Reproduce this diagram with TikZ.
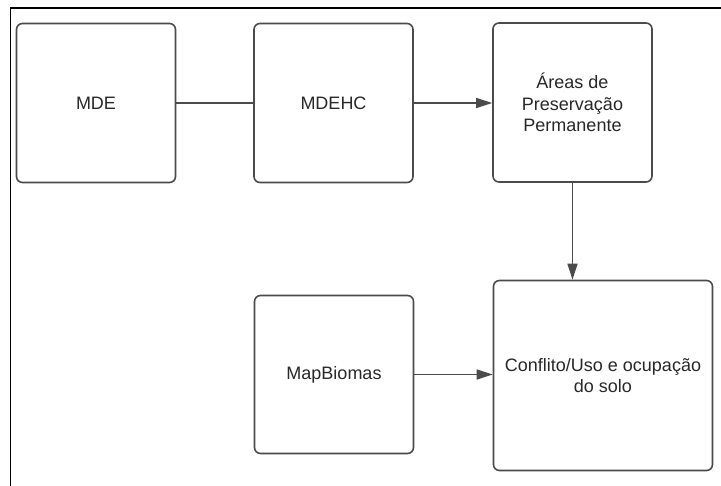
\documentclass[tikz,border=0pt]{standalone}
\usepackage{fontspec}
\setmainfont{Liberation Sans}
\definecolor{boxline}{RGB}{75, 75, 75}
\definecolor{boxtext}{RGB}{40, 40, 40}
\usetikzlibrary{arrows.meta, positioning}

\tikzset{
  procbox/.style={draw=boxline, line width=1.6pt, rounded corners=6pt, fill=white,
    text=boxtext, align=center, inner sep=4pt, font=\fontsize{18}{21.5}\selectfont},
  flow/.style={draw=boxline, line width=1.4pt},
  flowarrow/.style={flow, -{Triangle[length=16pt, width=10pt]}}
}

\begin{document}
\begin{tikzpicture}[x=1pt, y=1pt]
  \useasboundingbox (0,0) rectangle (721,486);

  % Frame
  \draw[black, line width=1.3pt] (10.5,0) -- (10.5,478) -- (721,478);

  % Top row
  \node[procbox, minimum width=159pt, minimum height=159pt] (mde) at (96, 383) {MDE};
  \node[procbox, minimum width=159pt, minimum height=159pt] (mdehc) at (333.5, 383) {MDEHC};
  \node[procbox, minimum width=159pt, minimum height=159pt] (app) at (572.5, 383.5) {Áreas de\\Preservação\\Permanente};

  % Bottom row
  \node[procbox, minimum width=159pt, minimum height=158pt] (mapbiomas) at (334, 111.5) {MapBiomas};
  \node[procbox, minimum width=219pt, minimum height=190pt] (conflito) at (603, 110.5) {Conflito/Uso e ocupação\\do solo};

  % Connectors
  \draw[flow] (mde.east) -- (mdehc.west);
  \draw[flowarrow] (mdehc.east) -- (app.west |- mdehc.east);
  \draw[flowarrow] (app.south) -- (app.south |- conflito.north);
  \draw[flowarrow] (mapbiomas.east) -- (conflito.west |- mapbiomas.east);
\end{tikzpicture}
\end{document}
